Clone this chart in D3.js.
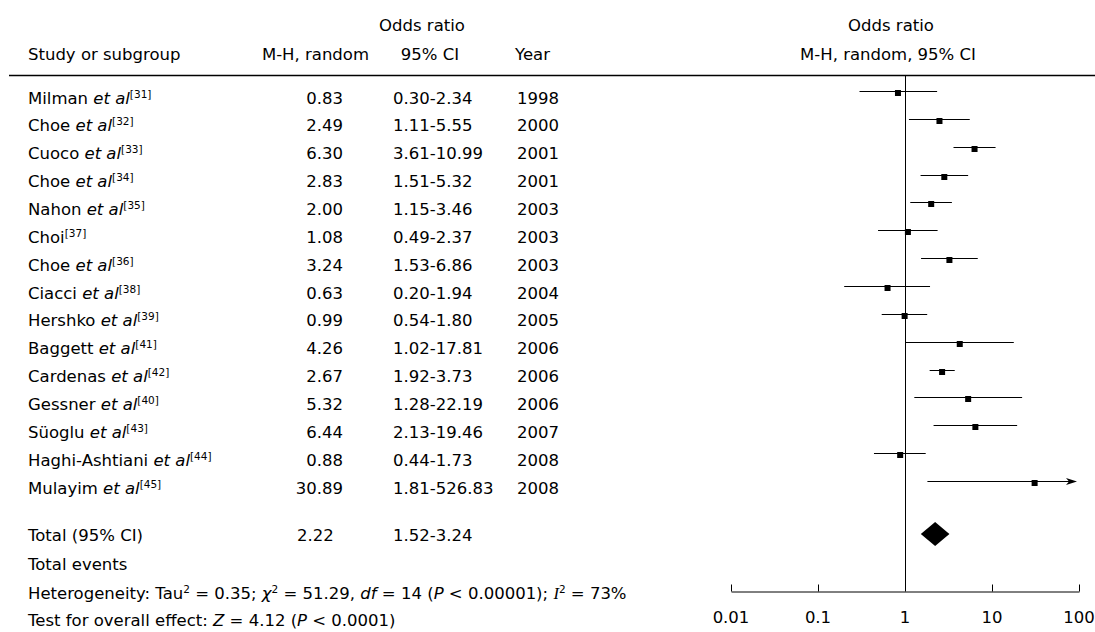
<!DOCTYPE html>
<html>
<head>
<meta charset="utf-8">
<script src="https://cdn.jsdelivr.net/npm/d3@7"></script>
<style>
  body { margin: 0; background: #fff; }
  text { font-family: "DejaVu Sans", Verdana, sans-serif; fill: #000; }
  .lbl { font-size: 16.5px; }
  .num { font-size: 16.5px; }
</style>
</head>
<body>
<div id="chart"></div>
<script>
var width = 1095, height = 632;

// study data
var studies = ["Milman", "Choe", "Cuoco", "Choe", "Nahon", "Choi", "Choe", "Ciacci", "Hershko",
               "Baggett", "Cardenas", "Gessner", "Süoglu", "Haghi-Ashtiani", "Mulayim"];
var etal = [true, true, true, true, true, false, true, true, true, true, true, true, true, true, true];
var refs = [31, 32, 33, 34, 35, 37, 36, 38, 39, 41, 42, 40, 43, 44, 45];
var oddsRatio = [0.83, 2.49, 6.30, 2.83, 2.00, 1.08, 3.24, 0.63, 0.99, 4.26, 2.67, 5.32, 6.44, 0.88, 30.89];
var ciLow = [0.30, 1.11, 3.61, 1.51, 1.15, 0.49, 1.53, 0.20, 0.54, 1.02, 1.92, 1.28, 2.13, 0.44, 1.81];
var ciHigh = [2.34, 5.55, 10.99, 5.32, 3.46, 2.37, 6.86, 1.94, 1.80, 17.81, 3.73, 22.19, 19.46, 1.73, 526.83];
var years = [1998, 2000, 2001, 2001, 2003, 2003, 2003, 2004, 2005, 2006, 2006, 2006, 2007, 2008, 2008];

// pooled estimate
var totalOR = 2.22, totalLow = 1.52, totalHigh = 3.24;

// axis ticks
var tickValues = [0.01, 0.1, 1, 10, 100];
var tickLabels = ["0.01", "0.1", "1", "10", "100"];

var fmt = d3.format(".2f");

var svg = d3.select("#chart").append("svg")
    .attr("width", width)
    .attr("height", height);

// log scale for the forest plot
var x = d3.scaleLog()
    .domain([0.01, 100])
    .range([731, 1079]);

// row positions (index of study)
var y = d3.scaleLinear()
    .domain([0, studies.length - 1])
    .range([91, 481]);

var totalY = 534, axisY = 591;

// headers
svg.append("text").attr("class", "lbl").attr("x", 422).attr("y", 31)
    .attr("text-anchor", "middle").text("Odds ratio");
svg.append("text").attr("class", "lbl").attr("x", 28).attr("y", 60).text("Study or subgroup");
svg.append("text").attr("class", "lbl").attr("x", 369).attr("y", 60)
    .attr("text-anchor", "end").text("M-H, random");
svg.append("text").attr("class", "lbl").attr("x", 430).attr("y", 60)
    .attr("text-anchor", "middle").text("95% CI");
svg.append("text").attr("class", "lbl").attr("x", 515).attr("y", 60).text("Year");
svg.append("text").attr("class", "lbl").attr("x", 891).attr("y", 31)
    .attr("text-anchor", "middle").text("Odds ratio");
svg.append("text").attr("class", "lbl").attr("x", 888).attr("y", 60)
    .attr("text-anchor", "middle").text("M-H, random, 95% CI");

svg.append("line")
    .attr("x1", 9).attr("x2", width)
    .attr("y1", 75.5).attr("y2", 75.5)
    .attr("stroke", "#000").attr("stroke-width", 1.3);

// table rows
var rows = svg.append("g").selectAll("g")
    .data(studies)
    .enter().append("g");

var nameText = rows.append("text").attr("class", "lbl")
    .attr("x", 28)
    .attr("y", function(d, i) { return y(i) + 12.5; });
nameText.append("tspan").text(function(d, i) { return etal[i] ? d + " " : d; });
nameText.append("tspan").style("font-style", "italic")
    .text(function(d, i) { return etal[i] ? "et al" : ""; });
nameText.append("tspan").attr("dy", -6).style("font-size", "10.5px")
    .text(function(d, i) { return "[" + refs[i] + "]"; });

rows.append("text").attr("class", "num")
    .attr("x", 343)
    .attr("y", function(d, i) { return y(i) + 12.5; })
    .attr("text-anchor", "end")
    .text(function(d, i) { return fmt(oddsRatio[i]); });

rows.append("text").attr("class", "num")
    .attr("x", 393)
    .attr("y", function(d, i) { return y(i) + 12.5; })
    .text(function(d, i) { return fmt(ciLow[i]) + "-" + fmt(ciHigh[i]); });

rows.append("text").attr("class", "num")
    .attr("x", 517)
    .attr("y", function(d, i) { return y(i) + 12.5; })
    .text(function(d, i) { return years[i]; });

// total row
svg.append("text").attr("class", "lbl").attr("x", 28).attr("y", 541).text("Total (95% CI)");
svg.append("text").attr("class", "num").attr("x", 297).attr("y", 541).text(fmt(totalOR));
svg.append("text").attr("class", "num").attr("x", 393).attr("y", 541)
    .text(fmt(totalLow) + "-" + fmt(totalHigh));
svg.append("text").attr("class", "lbl").attr("x", 28).attr("y", 570).text("Total events");

// heterogeneity line
var het = svg.append("text").attr("class", "lbl").attr("x", 28).attr("y", 599);
het.append("tspan").text("Heterogeneity: Tau");
het.append("tspan").attr("dy", -6).style("font-size", "10.5px").text("2");
het.append("tspan").attr("dy", 6).text(" = 0.35; ");
het.append("tspan").style("font-style", "italic").text("χ");
het.append("tspan").attr("dy", -6).style("font-size", "10.5px").text("2");
het.append("tspan").attr("dy", 6).text(" = 51.29, ");
het.append("tspan").style("font-style", "italic").text("df");
het.append("tspan").text(" = 14 (");
het.append("tspan").style("font-style", "italic").text("P");
het.append("tspan").text(" < 0.00001); ");
het.append("tspan").style("font-style", "italic")
    .style("font-family", "'Liberation Serif', serif").text("I");
het.append("tspan").attr("dy", -6).style("font-size", "10.5px").text("2");
het.append("tspan").attr("dy", 6).text(" = 73%");

var test = svg.append("text").attr("class", "lbl").attr("x", 28).attr("y", 626);
test.append("tspan").text("Test for overall effect: ");
test.append("tspan").style("font-style", "italic").text("Z");
test.append("tspan").text(" = 4.12 (");
test.append("tspan").style("font-style", "italic").text("P");
test.append("tspan").text(" < 0.0001)");

// forest plot
var plot = svg.append("g");

plot.append("line")
    .attr("x1", x(1) + 0.5).attr("x2", x(1) + 0.5)
    .attr("y1", 76).attr("y2", axisY)
    .attr("stroke", "#000").attr("stroke-width", 1);

plot.selectAll(".ci")
    .data(studies)
    .enter().append("line")
    .attr("class", "ci")
    .attr("x1", function(d, i) { return x(ciLow[i]); })
    .attr("x2", function(d, i) { return ciHigh[i] > 100 ? x(100) - 4 : x(ciHigh[i]); })
    .attr("y1", function(d, i) { return Math.round(y(i)) + 0.5; })
    .attr("y2", function(d, i) { return Math.round(y(i)) + 0.5; })
    .attr("stroke", "#000").attr("stroke-width", 1);

plot.selectAll(".pt")
    .data(studies)
    .enter().append("rect")
    .attr("class", "pt")
    .attr("x", function(d, i) { return x(oddsRatio[i]) - 3; })
    .attr("y", function(d, i) { return Math.round(y(i)) - 1; })
    .attr("width", 6).attr("height", 6)
    .attr("fill", "#000");

// arrow for CI beyond the axis
plot.selectAll(".arrow")
    .data(studies.filter(function(d, i) { return ciHigh[i] > 100; }))
    .enter().append("path")
    .attr("class", "arrow")
    .attr("d", function(d) {
        var i = studies.indexOf(d, 10), yy = Math.round(y(i)) + 0.5, tip = x(100) - 2;
        return "M" + tip + "," + yy + "L" + (tip - 11) + "," + (yy - 3.5) +
               "L" + (tip - 8) + "," + yy + "L" + (tip - 11) + "," + (yy + 3.5) + "Z";
    })
    .attr("fill", "#000");

// pooled diamond
plot.append("path")
    .attr("d", "M" + x(totalLow) + "," + totalY +
               "L" + x(totalOR) + "," + (totalY - 12) +
               "L" + x(totalHigh) + "," + totalY +
               "L" + x(totalOR) + "," + (totalY + 12) + "Z")
    .attr("fill", "#000");

// bottom axis
var axis = d3.axisTop(x)
    .tickValues(tickValues)
    .tickSize(7)
    .tickSizeOuter(0)
    .tickFormat(function(d, i) { return ""; });

var axisG = plot.append("g")
    .attr("transform", "translate(0," + (axisY + 0.5) + ")")
    .call(axis);
axisG.select(".domain").attr("stroke", "#000");
axisG.selectAll(".tick line").attr("stroke", "#000");

plot.selectAll(".tlab")
    .data(tickValues)
    .enter().append("text")
    .attr("class", "num tlab")
    .attr("x", function(d) { return x(d); })
    .attr("y", 623)
    .attr("text-anchor", "middle")
    .text(function(d, i) { return tickLabels[i]; });
</script>
</body>
</html>
